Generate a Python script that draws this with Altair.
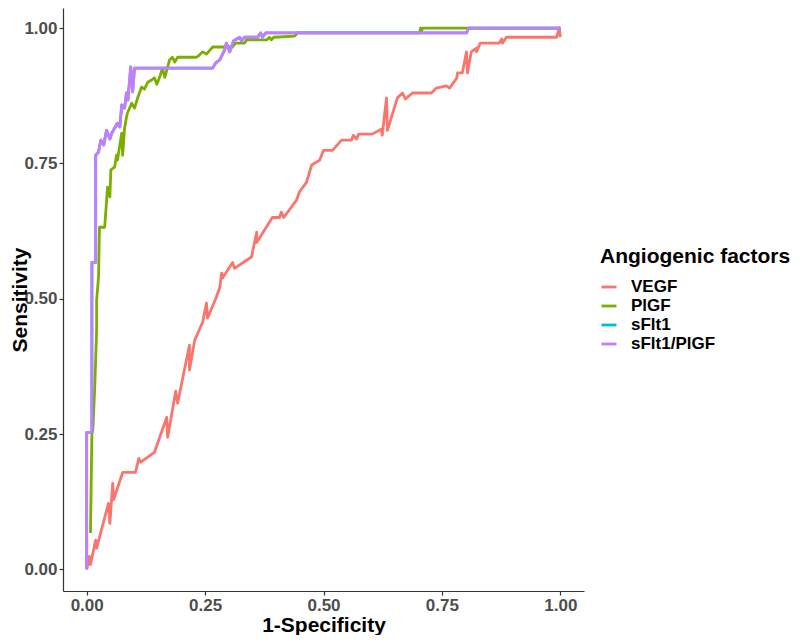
import altair as alt
import pandas as pd

# ---- data (1-Specificity, Sensitivity) ----
vegf_fpr = [0.0, 0.006, 0.008, 0.019, 0.021, 0.046, 0.049, 0.055, 0.057, 0.076, 0.103, 0.110, 0.114, 0.143,
            0.169, 0.171, 0.188, 0.192, 0.217, 0.217, 0.228, 0.245, 0.253, 0.255, 0.274, 0.281, 0.285, 0.287,
            0.308, 0.312, 0.348, 0.359, 0.359, 0.392, 0.407, 0.411, 0.416, 0.443, 0.449, 0.464, 0.475, 0.492,
            0.500, 0.519, 0.538, 0.559, 0.563, 0.570, 0.574, 0.603, 0.622, 0.624, 0.633, 0.635, 0.656, 0.667,
            0.673, 0.688, 0.728, 0.738, 0.759, 0.766, 0.781, 0.783, 0.793, 0.802, 0.804, 0.812, 0.823, 0.823,
            0.831, 0.871, 0.876, 0.878, 0.886, 0.992, 0.998, 1.0]
vegf_tpr = [0.0, 0.024, 0.009, 0.054, 0.039, 0.122, 0.085, 0.159, 0.129, 0.179, 0.179, 0.205, 0.198, 0.216,
            0.281, 0.244, 0.329, 0.307, 0.414, 0.368, 0.423, 0.457, 0.492, 0.464, 0.503, 0.521, 0.547, 0.538,
            0.567, 0.556, 0.577, 0.623, 0.604, 0.650, 0.650, 0.660, 0.650, 0.682, 0.697, 0.715, 0.747, 0.756,
            0.774, 0.774, 0.793, 0.793, 0.802, 0.795, 0.804, 0.804, 0.813, 0.802, 0.871, 0.811, 0.871, 0.880,
            0.869, 0.880, 0.880, 0.889, 0.893, 0.889, 0.907, 0.917, 0.917, 0.956, 0.917, 0.956, 0.963, 0.956,
            0.972, 0.972, 0.980, 0.972, 0.983, 0.983, 1.0, 0.983]

plgf_fpr = [0.008, 0.011, 0.013, 0.017, 0.021, 0.021, 0.025, 0.027, 0.038, 0.044, 0.049, 0.051, 0.059, 0.063,
            0.065, 0.074, 0.076, 0.080, 0.084, 0.086, 0.095, 0.101, 0.108, 0.116, 0.122, 0.129, 0.137, 0.143,
            0.148, 0.154, 0.160, 0.165, 0.175, 0.181, 0.186, 0.192, 0.232, 0.238, 0.245, 0.253, 0.264, 0.266,
            0.308, 0.314, 0.333, 0.338, 0.380, 0.386, 0.390, 0.395, 0.439, 0.445, 0.703, 0.705, 0.707, 0.709, 1.0]
plgf_tpr = [0.067, 0.251, 0.257, 0.336, 0.442, 0.497, 0.540, 0.632, 0.632, 0.706, 0.688, 0.738, 0.743, 0.765,
            0.756, 0.806, 0.765, 0.815, 0.835, 0.843, 0.861, 0.852, 0.872, 0.891, 0.887, 0.900, 0.904, 0.908,
            0.896, 0.909, 0.926, 0.909, 0.941, 0.946, 0.937, 0.946, 0.946, 0.950, 0.956, 0.952, 0.963, 0.965,
            0.965, 0.972, 0.972, 0.978, 0.978, 0.983, 0.978, 0.983, 0.985, 0.991, 0.991, 1.0, 0.994, 1.0, 1.0]

ratio_fpr = [0.0, 0.0, 0.011, 0.011, 0.019, 0.019, 0.025, 0.030, 0.036, 0.042, 0.049, 0.053, 0.065, 0.070,
             0.074, 0.080, 0.084, 0.087, 0.093, 0.097, 0.101, 0.266, 0.272, 0.281, 0.291, 0.295, 0.302, 0.310,
             0.323, 0.327, 0.333, 0.361, 0.367, 0.371, 0.378, 0.802, 0.806, 1.0]
ratio_tpr = [0.0, 0.253, 0.253, 0.567, 0.567, 0.765, 0.771, 0.793, 0.784, 0.811, 0.795, 0.806, 0.824, 0.817,
             0.858, 0.852, 0.880, 0.867, 0.928, 0.882, 0.926, 0.926, 0.935, 0.941, 0.959, 0.972, 0.956, 0.976,
             0.983, 0.976, 0.983, 0.983, 0.991, 0.983, 0.991, 0.991, 1.0, 1.0]

# sFlt1 curve is identical to (hidden under) sFlt1/PlGF in the reference
sflt_fpr = ratio_fpr
sflt_tpr = ratio_tpr

factors = ["VEGF", "PlGF", "sFlt1", "sFlt1/PlGF"]
colors = ["#F8766D", "#7CAE00", "#00BFC4", "#C77CFF"]
x_ticks = [0.0, 0.25, 0.5, 0.75, 1.0]
y_ticks = [0.0, 0.25, 0.5, 0.75, 1.0]

rows = []
for name, fx, ty in [("VEGF", vegf_fpr, vegf_tpr), ("PlGF", plgf_fpr, plgf_tpr),
                     ("sFlt1", sflt_fpr, sflt_tpr), ("sFlt1/PlGF", ratio_fpr, ratio_tpr)]:
    for i, (a, b) in enumerate(zip(fx, ty)):
        rows.append({"factor": name, "fpr": a, "tpr": b, "idx": i})
df = pd.DataFrame(rows)

FONT = "Liberation Sans"

chart = alt.Chart(df).mark_line(strokeWidth=2.8, strokeJoin="round").encode(
    x=alt.X("fpr:Q", title="1-Specificity",
            scale=alt.Scale(domain=[-0.05, 1.05], nice=False, zero=False),
            axis=alt.Axis(values=x_ticks, format=".2f", titleY=40, titleBaseline="alphabetic")),
    y=alt.Y("tpr:Q", title="Sensitivity",
            scale=alt.Scale(domain=[-0.04, 1.037], nice=False, zero=False),
            axis=alt.Axis(values=y_ticks, format=".2f", titleX=-37, titleBaseline="alphabetic",
                          titleAngle=270)),
    color=alt.Color("factor:N", title="Angiogenic factors",
                    scale=alt.Scale(domain=factors, range=colors),
                    legend=alt.Legend(orient="none", legendX=537, legendY=238,
                                      symbolType="stroke", symbolSize=225, symbolStrokeWidth=2.8,
                                      titleFontSize=21, labelFontSize=17, titleFont=FONT, labelFont=FONT,
                                      titleFontWeight="bold", labelFontWeight="bold",
                                      titleColor="#000000", labelColor="#000000",
                                      titleLimit=400, labelLimit=300,
                                      titlePadding=11, rowPadding=2, labelOffset=13)),
    detail="factor:N",
    order=alt.Order("idx:Q"),
).properties(
    width=521, height=583,
    autosize=alt.AutoSizeParams(type="none"),
    padding={"left": 55, "top": 0, "right": 208, "bottom": 44},
).configure_view(
    stroke=None
).configure_axis(
    grid=False,
    domainColor="#333333", domainWidth=1.2,
    tickColor="#333333", tickWidth=1.2, tickSize=4,
    labelFont=FONT, labelFontWeight="bold", labelFontSize=17, labelColor="#4D4D4D", labelPadding=2,
    titleFont=FONT, titleFontWeight="bold", titleFontSize=21, titleColor="#000000",
)

chart.save("out.html", embed_options={"renderer": "svg", "actions": False})
